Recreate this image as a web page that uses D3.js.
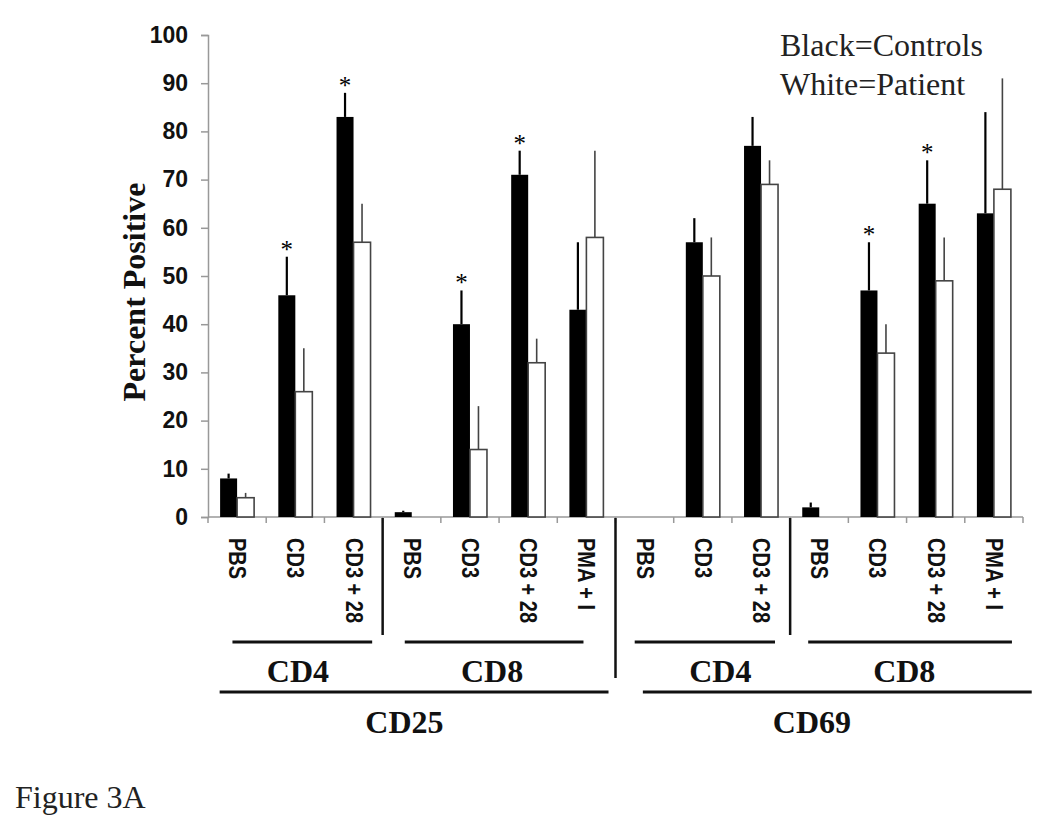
<!DOCTYPE html>
<html><head><meta charset="utf-8">
<script src="https://cdn.jsdelivr.net/npm/d3@7"></script>
<style>body{margin:0;background:#fff;}svg{display:block;}</style>
</head><body>
<svg id="c" width="1050" height="837"></svg>
<script>
const categories = ["PBS","CD3","CD3 + 28","PBS","CD3","CD3 + 28","PMA + I","PBS","CD3","CD3 + 28","PBS","CD3","CD3 + 28","PMA + I"];
const controls     = [8, 46, 83, 1, 40, 71, 43, 0, 57, 77, 2, 47, 65, 63];
const controlsErr  = [1, 8, 5, 0.3, 7, 5, 14, 0, 5, 6, 1, 10, 9, 21];
const patient      = [4, 26, 57, 0, 14, 32, 58, 0, 50, 69, 0, 34, 49, 68];
const patientErr   = [1, 9, 8, 0, 9, 5, 18, 0, 8, 5, 0, 6, 9, 23];
const significant  = [false, true, true, false, true, true, false, false, false, false, false, true, true, false];
const yTicks = [0,10,20,30,40,50,60,70,80,90,100];
// sub-groups: [first index, last index, label]
const subGroups = [[0,2,"CD4"],[3,6,"CD8"],[7,9,"CD4"],[10,13,"CD8"]];
const mainGroups = [[0,6,"CD25"],[7,13,"CD69"]];
const legendLines = ["Black=Controls","White=Patient"];
const figureLabel = "Figure 3A";
const yTitle = "Percent Positive";

const svg = d3.select("#c");
const x0 = 208, x1 = 1023, yTop = 35, yBot = 517;
const x = d3.scaleBand().domain(d3.range(categories.length)).range([x0, x1]).padding(0);
const y = d3.scaleLinear().domain([0,100]).range([yBot, yTop]);
const bw = 17;
const serif = "'Liberation Serif','Times New Roman',serif";
const sans = "'Liberation Sans',Arial,sans-serif";

// Y axis
const yAxis = d3.axisLeft(y).tickValues(yTicks).tickSize(7).tickPadding(13);
const gy = svg.append("g").attr("transform",`translate(${x0},0)`).call(yAxis);
gy.select(".domain").attr("stroke","#999").attr("stroke-width",1.5);
gy.selectAll(".tick line").attr("stroke","#999").attr("stroke-width",1.5);
gy.selectAll(".tick text").attr("font-family",sans).attr("font-weight","bold").attr("font-size",23).attr("fill","#111");

// X axis line and ticks at category boundaries
svg.append("line").attr("x1",x0).attr("x2",x1).attr("y1",yBot).attr("y2",yBot).attr("stroke","#999").attr("stroke-width",1.5);
svg.selectAll(".xt").data(d3.range(categories.length+1)).join("line")
  .attr("x1",i=>x0+i*x.bandwidth()).attr("x2",i=>x0+i*x.bandwidth())
  .attr("y1",yBot).attr("y2",yBot+6).attr("stroke","#999").attr("stroke-width",1.5);

// Bars
const idx = d3.range(categories.length);
const cx = i => x(i) + x.bandwidth()/2;
svg.selectAll(".eb").data(idx.filter(i=>controlsErr[i]>0)).join("line")
  .attr("x1",i=>cx(i)-bw/2).attr("x2",i=>cx(i)-bw/2)
  .attr("y1",i=>y(controls[i])).attr("y2",i=>y(controls[i]+controlsErr[i]))
  .attr("stroke","#000").attr("stroke-width",2.2);
svg.selectAll(".ew").data(idx.filter(i=>patientErr[i]>0)).join("line")
  .attr("x1",i=>cx(i)+bw/2).attr("x2",i=>cx(i)+bw/2)
  .attr("y1",i=>y(patient[i])).attr("y2",i=>y(patient[i]+patientErr[i]))
  .attr("stroke","#444").attr("stroke-width",1.6);
svg.selectAll(".bb").data(idx.filter(i=>controls[i]>0)).join("rect")
  .attr("x",i=>cx(i)-bw).attr("width",bw)
  .attr("y",i=>y(controls[i])).attr("height",i=>yBot-y(controls[i]))
  .attr("fill","#000");
svg.selectAll(".bw").data(idx.filter(i=>patient[i]>0)).join("rect")
  .attr("x",i=>cx(i)).attr("width",bw)
  .attr("y",i=>y(patient[i])).attr("height",i=>yBot-y(patient[i]))
  .attr("fill","#fff").attr("stroke","#444").attr("stroke-width",1.6);

// asterisks
svg.selectAll(".st").data(idx.filter(i=>significant[i])).join("text")
  .attr("x",i=>cx(i)-bw/2).attr("y",i=>y(controls[i]+controlsErr[i])+1)
  .attr("text-anchor","middle").attr("font-family",serif).attr("font-size",25).attr("fill","#000")
  .text("*");

// category labels (rotated 90deg clockwise, glyphs slightly widened)
svg.selectAll(".cl").data(idx).join("text")
  .attr("transform",i=>`translate(${cx(i)-8},538) rotate(90) scale(1,1.15)`)
  .attr("font-family",sans).attr("font-weight","bold").attr("font-size",20).attr("fill","#111")
  .text(i=>categories[i]);

// separators
const sep = (i, yEnd) => svg.append("line").attr("x1",x0+i*x.bandwidth()).attr("x2",x0+i*x.bandwidth())
  .attr("y1",yBot+1).attr("y2",yEnd).attr("stroke","#111").attr("stroke-width",2.5);
sep(3,635); sep(7,678); sep(10,635);

// subgroup lines and labels (line extents and label centre in band units)
const subExt = [[0.42,0.82],[0.38,0.45],[0.33,0.74],[0.31,0.81]];
const subLab = [0.515,0.47,0.60,0.49];
subGroups.forEach(([a,b,lab],k)=>{
  const xa = x(a)+x.bandwidth()*subExt[k][0], xb = x(b)+x.bandwidth()*subExt[k][1];
  const span = (b-a+1)*x.bandwidth();
  svg.append("line").attr("x1",xa).attr("x2",xb).attr("y1",642).attr("y2",642).attr("stroke","#111").attr("stroke-width",3);
  svg.append("text").attr("x",x(a)+span*subLab[k]).attr("y",682).attr("text-anchor","middle")
    .attr("font-family",serif).attr("font-weight","bold").attr("font-size",32).attr("fill","#111").text(lab);
});
const mainExt = [[0.2,0.88],[0.47,1.15]];
mainGroups.forEach(([a,b,lab],k)=>{
  const xa = x(a)+x.bandwidth()*mainExt[k][0], xb = x(b)+x.bandwidth()*mainExt[k][1];
  const span = (b-a+1)*x.bandwidth();
  svg.append("line").attr("x1",xa).attr("x2",xb).attr("y1",692).attr("y2",692).attr("stroke","#111").attr("stroke-width",3);
  svg.append("text").attr("x",x(a)+span*0.482).attr("y",733).attr("text-anchor","middle")
    .attr("font-family",serif).attr("font-weight","bold").attr("font-size",32).attr("fill","#111").text(lab);
});

// y title
svg.append("text").attr("transform","translate(145,292) rotate(-90)").attr("text-anchor","middle")
  .attr("font-family",serif).attr("font-weight","bold").attr("font-size",32).attr("fill","#111").text(yTitle);

// legend text
svg.selectAll(".lg").data(legendLines).join("text")
  .attr("x",780).attr("y",(d,i)=>56+i*39)
  .attr("font-family",serif).attr("font-size",32).attr("fill","#222").text(d=>d);

svg.append("text").attr("x",15).attr("y",808).attr("font-family",serif).attr("font-size",32).attr("fill","#222").text(figureLabel);
</script>
</body></html>
